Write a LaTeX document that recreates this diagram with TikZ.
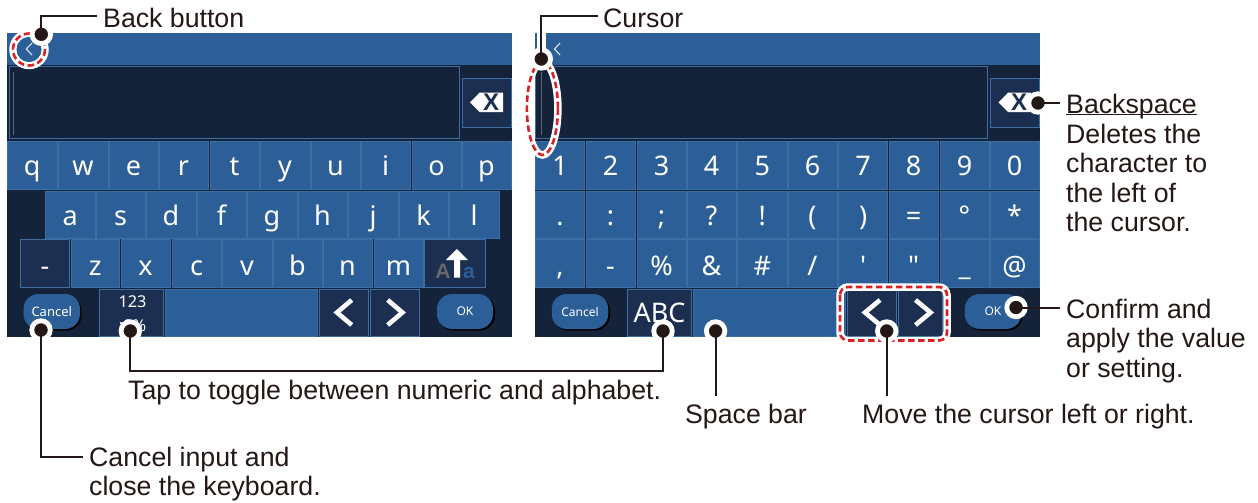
\documentclass[tikz,border=0pt]{standalone}
\usepackage{fontspec}
\setmainfont{Liberation Sans}
\newfontfamily\keyfont{Noto Sans}
\definecolor{ink}{HTML}{231815}
\definecolor{panelblue}{HTML}{2C5F97}
\definecolor{paneldark}{HTML}{15233A}
\definecolor{keydark}{HTML}{1C2F50}
\definecolor{keyline}{HTML}{3A6EA5}
\definecolor{alertred}{HTML}{DA2128}
\tikzset{
  keybase/.style={draw=keyline,line width=0.8pt,inner sep=0pt,outer sep=0pt,text=white,anchor=base,font=\keyfont\fontsize{27}{27}\selectfont},
  bluekey/.style={keybase,fill=panelblue},
  darkkey/.style={keybase,fill=keydark},
  pill/.style={rounded corners=15pt,fill=panelblue,text=white,inner sep=0pt,font=\keyfont\fontsize{13}{13}\selectfont},
  pillshadow/.style={rounded corners=15pt,fill=black},
  chev/.style={draw=white,line width=4.6pt,line join=miter,line cap=butt},
  thinchev/.style={draw=white!85!panelblue,line width=1.1pt},
  lbl/.style={text=ink,inner sep=0pt,align=left,font=\fontsize{26.7}{29.5}\selectfont},
  lead/.style={draw=ink,line width=2pt},
  dotmark/.style={circle,fill=ink,draw=white,line width=4.8pt,minimum size=18.5pt,inner sep=0pt,outer sep=0pt},
  halo/.style={draw=white,line width=7.5pt},
  reddash/.style={draw=alertred,line width=2.6pt,dash pattern=on 6.5pt off 3.5pt},
  shiftletter/.style={inner sep=0pt,anchor=base,font=\bfseries\fontsize{21}{21}\selectfont},
  xmark/.style={text=keydark,inner sep=0pt,font=\bfseries\fontsize{24}{24}\selectfont},
  cursorline/.style={draw=gray!70!paneldark,line width=1pt},
}
\newcommand{\kb}[8]{%
  \pgfmathsetmacro{\kw}{#3-#2}\pgfmathsetmacro{\kcx}{(#2+#3)/2}%
  \pgfmathsetmacro{\kh}{#6-#4}\pgfmathsetmacro{\kd}{#5-#6}%
  \node[#7,minimum width=\kw pt,text height=\kh pt,text depth=\kd pt] (#1) at (\kcx,#6) {#8};}
\begin{document}
\begin{tikzpicture}[x=1pt,y=-1pt]
\useasboundingbox (0,0) rectangle (1258,503);
\fill[white] (0,0) rectangle (1258,503);
% ---------- left panel
\fill[paneldark] (7,33) rectangle (512,337);
\fill[panelblue] (7,33) rectangle (512,65);
\draw[keyline,line width=0.8pt] (9.5,66.5) rectangle (459.5,138.5);
\draw[cursorline] (13.5,72) -- (13.5,135);
\foreach \a/\b/\t [count=\i] in {7.5/57/q,58/108/w,109/158/e,159/208/r,210/259/t,260/310/y,311/360/u,361/410/i,412/461/o,462/511/p}
  {\kb{la\i}{\a}{\b}{141}{189}{175}{bluekey}{\t}}
\foreach \a/\b/\t [count=\i] in {45.5/95/a,96/145/s,146/196/d,197/246/f,247/297/g,298/347/h,348/398/j,399/448/k,449/499/l}
  {\kb{lb\i}{\a}{\b}{191}{238}{225}{bluekey}{\t}}
\kb{lc0}{20.5}{69.5}{239.5}{287.5}{275}{darkkey}{-}
\foreach \a/\b/\t [count=\i] in {71/119.5/z,121/170/x,172/221/c,222/272/v,273/322/b,323/372/n,374/423/m}
  {\kb{lc\i}{\a}{\b}{239.5}{287.5}{275}{bluekey}{\t}}
\kb{lshift}{424.5}{485}{239.5}{287.5}{275}{darkkey}{}
\node[shiftletter,text=gray!75!paneldark] (shA) at (443,278) {A};
\node[shiftletter,text=panelblue] (sha) at (469,278) {a};
\fill[white] (456.8,249) -- (468,260) -- (460,260) -- (460,277.5) -- (454,277.5) -- (454,260) -- (446,260) -- cycle;
\kb{lnum}{99.5}{163.5}{289}{336}{316}{darkkey}{}
\node[text=white,inner sep=0pt,anchor=base,font=\keyfont\fontsize{16.3}{16.3}\selectfont] (l123) at (132.5,307) {123};
\node[text=white,inner sep=0pt,anchor=base,font=\keyfont\fontsize{16.3}{16.3}\selectfont] (lsym) at (132.5,331) {:8\%};
\kb{lspace}{165}{317}{289}{336}{316}{bluekey}{}
\kb{lleft}{319.5}{368}{289}{336}{316}{darkkey}{}
\kb{lright}{370}{419}{289}{336}{316}{darkkey}{}
\draw[chev] (351.7,300) -- (337,312.5) -- (351.7,325);
\draw[chev] (387.7,300) -- (402.4,312.5) -- (387.7,325);
\fill[pillshadow] (25,295.5) rectangle (81.5,330.5);
\node[pill,minimum width=56.5pt,minimum height=35pt] (lcancel) at (51.75,311.5) {Cancel};
\fill[pillshadow] (438.5,295.5) rectangle (495,330.5);
\node[pill,minimum width=56pt,minimum height=35pt,font=\keyfont\fontsize{12}{12}\selectfont] (lok) at (465,311.5) {OK};
\fill[keydark] (462.5,78) rectangle (511,127);
\draw[keyline,line width=0.8pt] (462.5,78) rectangle (511,127);
\fill[white] (470,102.5) -- (479.5,92.7) -- (503,92.7) -- (503,112) -- (479.5,112) -- cycle;
\node[xmark] (lx) at (491,102.3) {X};
% ---------- right panel
\fill[paneldark] (535,33) rectangle (1040,337);
\fill[panelblue] (535,33) rectangle (1040,65);
\draw[keyline,line width=0.8pt] (535.5,66.5) rectangle (987.5,138.5);
\draw[cursorline] (541.5,72) -- (541.5,135);
\draw[thinchev] (560,43) -- (554.5,49) -- (560,55);
\foreach \a/\b/\p/\q/\r [count=\i] in {535.5/584.7/1/./{,},586/635/2/:/-,637/686/3/;/\%,687/736/4/?/\&,737.6/787/5/!/\#,788/837/6/(/{/},838.5/887.8/7/)/',889/938/8/=/",940/989/9/°/\_,990/1039/0/*/@}{
  \kb{ra\i}{\a}{\b}{141}{189}{175}{bluekey}{\p}
  \kb{rb\i}{\a}{\b}{191}{238}{225}{bluekey}{\q}
  \kb{rc\i}{\a}{\b}{239.5}{287.5}{275}{bluekey}{\r}
}
\fill[pillshadow] (553.5,295.5) rectangle (610,330.5);
\node[pill,minimum width=56.5pt,minimum height=35pt,font=\keyfont\fontsize{12}{12}\selectfont] (rcancel) at (580,311.5) {Cancel};
\kb{rabc}{627.5}{691.5}{289}{336}{322}{darkkey}{ABC}
\kb{rspace}{693}{845.5}{289}{336}{316}{bluekey}{}
\kb{rleft}{847}{896}{289}{336}{316}{darkkey}{}
\kb{rright}{898}{942.5}{289}{336}{316}{darkkey}{}
\draw[chev] (880,300) -- (865,312.5) -- (880,325);
\draw[chev] (915.5,300) -- (930.5,312.5) -- (915.5,325);
\fill[pillshadow] (966.5,295.5) rectangle (1023,330.5);
\node[pill,minimum width=56.5pt,minimum height=35pt,font=\keyfont\fontsize{12}{12}\selectfont] (rok) at (993,311.5) {OK};
\fill[keydark] (990,78) rectangle (1039,127);
\draw[keyline,line width=0.8pt] (990,78) rectangle (1039,127);
\fill[white] (998.5,102.5) -- (1008,92.7) -- (1031,92.7) -- (1031,112) -- (1008,112) -- cycle;
\node[xmark] (rx) at (1019,102.3) {X};
% ---------- red highlights
\draw[halo] (29,49.5) circle (16);
\fill[panelblue] (29,49.5) circle (12.5);
\draw[thinchev] (32,43) -- (26.3,49) -- (32,55);
\draw[reddash] (29,49.5) circle (16);
\draw[halo] (542.4,108.5) ellipse (15.5 and 46.5);
\draw[reddash] (542.4,108.5) ellipse (15.5 and 46.5);
\draw[halo,rounded corners=8pt] (840,287) rectangle (947,340.5);
\draw[reddash,rounded corners=8pt] (840,287) rectangle (947,340.5);
% ---------- leaders and labels
\draw[draw=white,line width=9pt] (541.3,33) -- (541.3,59);
\node[dotmark] (dback) at (41.3,34.3) {};
\node[dotmark] (dcursor) at (541.3,59) {};
\node[dotmark] (dbs) at (1038,103) {};
\node[dotmark] (dok) at (1016,307.5) {};
\node[dotmark] (dabc) at (663,331) {};
\node[dotmark] (dnum) at (130.3,331) {};
\node[dotmark] (dspace) at (715.6,331) {};
\node[dotmark] (dmove) at (886.7,331) {};
\node[dotmark] (dcancel) at (41,330) {};
\node[lbl,anchor=base west] (tback) at (103,28) {Back button};
\node[lbl,anchor=base west] (tcursor) at (603,28) {Cursor};
\node[lbl,anchor=base west] (tbs) at (1066,113) {\underline{\smash{Backspace}}};
\node[lbl,anchor=north west] (tbsbody) at (1066,123.5) {Deletes the\\character to\\the left of\\the cursor.};
\node[lbl,anchor=north west] (tok) at (1066,298.5) {Confirm and\\apply the value\\or setting.};
\node[lbl,anchor=base west] (ttoggle) at (128,399) {Tap to toggle between numeric and alphabet.};
\node[lbl,anchor=base] (tspace) at (746,423) {Space bar};
\node[lbl,anchor=base west] (tmove) at (862,423) {Move the cursor left or right.};
\node[lbl,anchor=north west] (tcancel) at (89,446.5) {Cancel input and\\close the keyboard.};
\coordinate (eback) at (97,16);
\coordinate (ecursor) at (597.5,16);
\coordinate (ebs) at (1060,103);
\coordinate (eok) at (1060,307.5);
\coordinate (espace) at (715.6,396);
\coordinate (emove) at (886.7,396);
\coordinate (ecancel) at (83,457);
\coordinate (ejoinA) at (130.3,371);
\coordinate (ejoinB) at (663,371);
\draw[lead] (dback.center) |- (eback);
\draw[lead] (dcursor.center) |- (ecursor);
\draw[lead] (dbs.center) -- (ebs);
\draw[lead] (dok.center) -- (eok);
\draw[lead] (dnum.center) -- (ejoinA) -- (ejoinB) -- (dabc.center);
\draw[lead] (dspace.center) -- (espace);
\draw[lead] (dmove.center) -- (emove);
\draw[lead] (dcancel.center) |- (ecancel);
\end{tikzpicture}
\end{document}
